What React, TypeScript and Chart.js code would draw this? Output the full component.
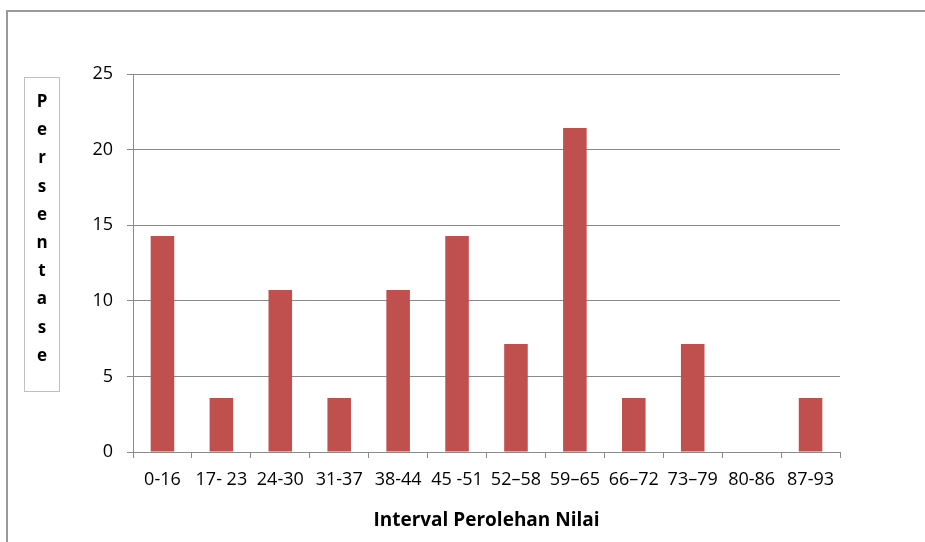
import React, { useEffect, useRef } from "react";
import { Chart, registerables } from "chart.js";

Chart.register(...registerables);

const categories = ["0-16", "17- 23", "24-30", "31-37", "38-44", "45 -51", "52–58", "59–65", "66–72", "73–79", "80-86", "87-93"];
const percentages = [14.29, 3.57, 10.71, 3.57, 10.71, 14.29, 7.14, 21.43, 3.57, 7.14, 0, 3.57];
const yTitleLetters = ["P", "e", "r", "s", "e", "n", "t", "a", "s", "e"];
const xTitle = "Interval Perolehan Nilai";
const yMax = 25;
const yStep = 5;

const FONT = "'Open Sans', 'Lato', sans-serif";
const GRID = "#8a8a8a";

export default function App() {
  const ref = useRef<HTMLCanvasElement | null>(null);

  useEffect(() => {
    if (!ref.current) return;
    const chart = new Chart(ref.current, {
      type: "bar",
      data: {
        labels: categories,
        datasets: [
          {
            data: percentages,
            backgroundColor: "#C0504D",
            borderWidth: 0,
            barPercentage: 0.4,
            categoryPercentage: 1,
          },
        ],
      },
      options: {
        animation: false,
        responsive: false,
        maintainAspectRatio: false,
        layout: { padding: { top: 74, right: 85, left: 0, bottom: 0 } },
        plugins: { legend: { display: false }, tooltip: { enabled: false } },
        scales: {
          x: {
            grid: { display: true, drawOnChartArea: false, tickLength: 6, color: GRID, lineWidth: 1 },
            border: { display: true, color: GRID, width: 1 },
            ticks: { color: "#000", font: { family: FONT, size: 18 }, padding: 11, maxRotation: 0, autoSkip: false },
            title: {
              display: true,
              text: xTitle,
              color: "#000",
              font: { family: FONT, size: 19, weight: "bold" },
              padding: { top: 0, bottom: 10 },
            },
            afterFit: (scale: any) => {
              scale.height = 90;
            },
          },
          y: {
            min: 0,
            max: yMax,
            grid: { color: GRID, lineWidth: 1, tickLength: 6 },
            border: { display: true, color: GRID, width: 1 },
            ticks: { stepSize: yStep, color: "#000", font: { family: FONT, size: 18 }, padding: 14 },
            afterFit: (scale: any) => {
              scale.width = 133;
            },
          },
        },
      },
    });
    return () => chart.destroy();
  }, []);

  return (
    <div style={{ position: "fixed", left: 0, top: 0, width: 925, height: 542, overflow: "hidden", background: "#fff" }}>
      <div
        style={{
          position: "absolute",
          left: 6,
          top: 10,
          width: 1200,
          height: 1200,
          border: "2px solid #999",
          boxSizing: "border-box",
        }}
      />
      <canvas ref={ref} width={925} height={542} style={{ position: "absolute", left: 0, top: 0, width: 925, height: 542 }} />
      <div
        style={{
          position: "absolute",
          left: 24,
          top: 77,
          width: 36,
          height: 315,
          border: "1px solid #bfbfbf",
          boxSizing: "border-box",
          paddingTop: 9,
          fontFamily: FONT,
          fontWeight: "bold",
          fontSize: 17,
          color: "#000",
          textAlign: "center",
        }}
      >
        {yTitleLetters.map((ch, i) => (
          <div key={i} style={{ lineHeight: "28.2px", height: 28.2 }}>
            {ch}
          </div>
        ))}
      </div>
    </div>
  );
}
